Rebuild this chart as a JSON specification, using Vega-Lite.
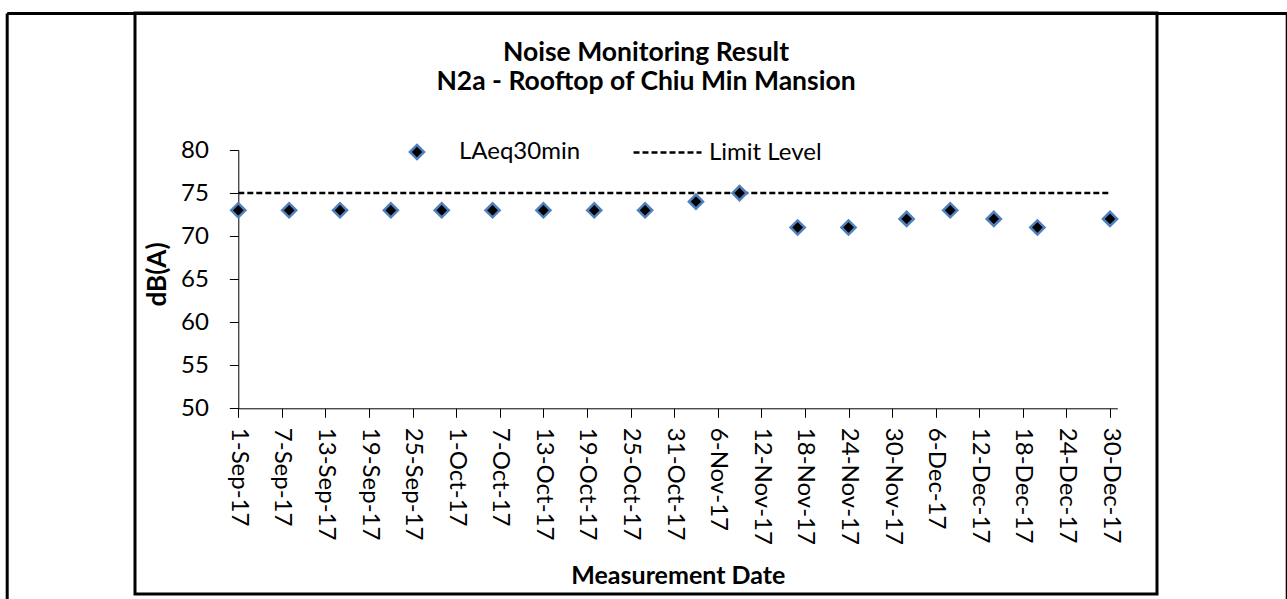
{
  "$schema": "https://vega.github.io/schema/vega-lite/v6.json",
  "width": 1022,
  "height": 581,
  "autosize": {"type": "none"},
  "padding": {"left": 135, "top": 13, "right": 130, "bottom": 5},
  "background": "white",
  "config": {
    "view": {"stroke": "black", "strokeWidth": 3},
    "font": "Lato",
    "axis": {"grid": false, "domainColor": "black", "tickColor": "black", "labelColor": "black", "titleColor": "black", "labelFont": "Lato", "titleFont": "Lato"},
    "legend": {"labelFont": "Lato", "labelColor": "black", "padding": 0}
  },
  "title": {
    "text": ["Noise Monitoring Result", "N2a - Rooftop of Chiu Min Mansion"],
    "font": "Lato",
    "fontSize": 26.5,
    "fontWeight": "bold",
    "color": "black",
    "lineHeight": 29,
    "anchor": "middle",
    "frame": "group",
    "baseline": "alphabetic",
    "offset": -103
  },
  "data": {
    "values": [
      {"date": "2017-09-01T00:00", "laeq": 73, "limit": 75},
      {"date": "2017-09-08T00:00", "laeq": 73, "limit": 75},
      {"date": "2017-09-15T00:00", "laeq": 73, "limit": 75},
      {"date": "2017-09-22T00:00", "laeq": 73, "limit": 75},
      {"date": "2017-09-29T00:00", "laeq": 73, "limit": 75},
      {"date": "2017-10-06T00:00", "laeq": 73, "limit": 75},
      {"date": "2017-10-13T00:00", "laeq": 73, "limit": 75},
      {"date": "2017-10-20T00:00", "laeq": 73, "limit": 75},
      {"date": "2017-10-27T00:00", "laeq": 73, "limit": 75},
      {"date": "2017-11-03T00:00", "laeq": 74, "limit": 75},
      {"date": "2017-11-09T00:00", "laeq": 75, "limit": 75},
      {"date": "2017-11-17T00:00", "laeq": 71, "limit": 75},
      {"date": "2017-11-24T00:00", "laeq": 71, "limit": 75},
      {"date": "2017-12-02T00:00", "laeq": 72, "limit": 75},
      {"date": "2017-12-08T00:00", "laeq": 73, "limit": 75},
      {"date": "2017-12-14T00:00", "laeq": 72, "limit": 75},
      {"date": "2017-12-20T00:00", "laeq": 71, "limit": 75},
      {"date": "2017-12-30T00:00", "laeq": 72, "limit": 75}
    ]
  },
  "layer": [
    {
      "layer": [
        {
          "mark": {"type": "line", "stroke": "black", "strokeWidth": 2.5},
          "encoding": {
            "x": {
              "field": "date", "type": "temporal",
              "scale": {"domain": [{"year": 2017, "month": 9, "date": 1}, {"year": 2017, "month": 12, "date": 31}], "range": [103.3, 982.3], "nice": false},
              "axis": {
                "orient": "bottom",
                "offset": -185.7,
                "values": [
                  {"year": 2017, "month": 9, "date": 1}, {"year": 2017, "month": 9, "date": 7}, {"year": 2017, "month": 9, "date": 13}, {"year": 2017, "month": 9, "date": 19}, {"year": 2017, "month": 9, "date": 25},
                  {"year": 2017, "month": 10, "date": 1}, {"year": 2017, "month": 10, "date": 7}, {"year": 2017, "month": 10, "date": 13}, {"year": 2017, "month": 10, "date": 19}, {"year": 2017, "month": 10, "date": 25}, {"year": 2017, "month": 10, "date": 31},
                  {"year": 2017, "month": 11, "date": 6}, {"year": 2017, "month": 11, "date": 12}, {"year": 2017, "month": 11, "date": 18}, {"year": 2017, "month": 11, "date": 24}, {"year": 2017, "month": 11, "date": 30},
                  {"year": 2017, "month": 12, "date": 6}, {"year": 2017, "month": 12, "date": 12}, {"year": 2017, "month": 12, "date": 18}, {"year": 2017, "month": 12, "date": 24}, {"year": 2017, "month": 12, "date": 30}
                ],
                "format": "%-d-%b-%y",
                "labelAngle": 90,
                "labelFontSize": 24,
                "labelPadding": 10,
                "labelOverlap": false,
                "labelFlush": false,
                "tickSize": 9,
                "domainWidth": 1,
                "title": "Measurement Date",
                "titleFontSize": 25,
                "titleFontWeight": "bold",
                "titleBaseline": "alphabetic",
                "titleY": 174.7
              }
            },
            "y": {
              "field": "limit", "type": "quantitative",
              "scale": {"domain": [50, 80], "range": [395.3, 137], "nice": false, "zero": false},
              "axis": {
                "orient": "left",
                "offset": -103.3,
                "values": [50, 55, 60, 65, 70, 75, 80],
                "labelFontSize": 24,
                "labelPadding": 21,
                "tickSize": 9,
                "domainWidth": 1,
                "title": "dB(A)",
                "titleFontSize": 26,
                "titleFontWeight": "bold",
                "titlePadding": 10,
                "titleY": 261,
                "titleAlign": "center"
              }
            },
            "strokeDash": {
              "datum": "Limit Level",
              "scale": {"range": [[6, 3]]},
              "legend": {
                "orient": "none", "legendX": 497, "legendY": 104, "title": null,
                "symbolType": "stroke", "symbolSize": 4624, "symbolStrokeWidth": 2.5, "symbolStrokeColor": "black",
                "labelFontSize": 24, "labelOffset": 6
              }
            }
          }
        },
        {
          "mark": {"type": "point", "filled": true, "strokeWidth": 2.5, "size": 200, "opacity": 1},
          "encoding": {
            "x": {"field": "date", "type": "temporal"},
            "y": {"field": "laeq", "type": "quantitative"},
            "fill": {"datum": "LAeq30min", "scale": {"range": ["black"]}, "legend": {"orient": "none", "legendX": 270, "legendY": 127, "title": null, "symbolSize": 200, "symbolStrokeWidth": 2.5, "labelFontSize": 24, "labelOffset": 30}},
            "stroke": {"datum": "LAeq30min", "scale": {"range": ["#4F81BD"]}, "legend": {"orient": "none", "legendX": 270, "legendY": 127, "title": null, "symbolSize": 200, "symbolStrokeWidth": 2.5, "labelFontSize": 24, "labelOffset": 30}},
            "shape": {
              "datum": "LAeq30min",
              "scale": {"range": ["diamond"]},
              "legend": {
                "orient": "none", "legendX": 270, "legendY": 127, "title": null,
                "symbolSize": 200, "symbolStrokeWidth": 2.5,
                "labelFontSize": 24, "labelOffset": 30
              }
            }
          }
        }
      ]
    },
    {
      "mark": {"type": "point", "opacity": 0},
      "encoding": {
        "x": {
          "field": "date", "type": "temporal",
          "scale": {"domain": [{"year": 2017, "month": 9, "date": 1}, {"year": 2017, "month": 12, "date": 31}], "range": [-128.3, 1152], "nice": false},
          "axis": {"orient": "top", "offset": 0, "ticks": false, "labels": false, "title": null, "domainWidth": 3, "domainColor": "black"}
        },
        "y": {
          "field": "laeq", "type": "quantitative",
          "scale": {"domain": [50, 80], "range": [586, 0], "nice": false, "zero": false},
          "axis": {"orient": "left", "offset": 128.3, "ticks": false, "labels": false, "title": null, "domainWidth": 3, "domainColor": "black"}
        }
      }
    },
    {
      "mark": {"type": "point", "opacity": 0},
      "encoding": {
        "y": {
          "field": "laeq", "type": "quantitative",
          "scale": {"domain": [50, 80], "range": [586, 0], "nice": false, "zero": false},
          "axis": {"orient": "right", "offset": 129.7, "ticks": false, "labels": false, "title": null, "domainWidth": 3, "domainColor": "black"}
        }
      }
    }
  ],
  "resolve": {"scale": {"x": "independent", "y": "independent"}, "axis": {"x": "independent", "y": "independent"}}
}
